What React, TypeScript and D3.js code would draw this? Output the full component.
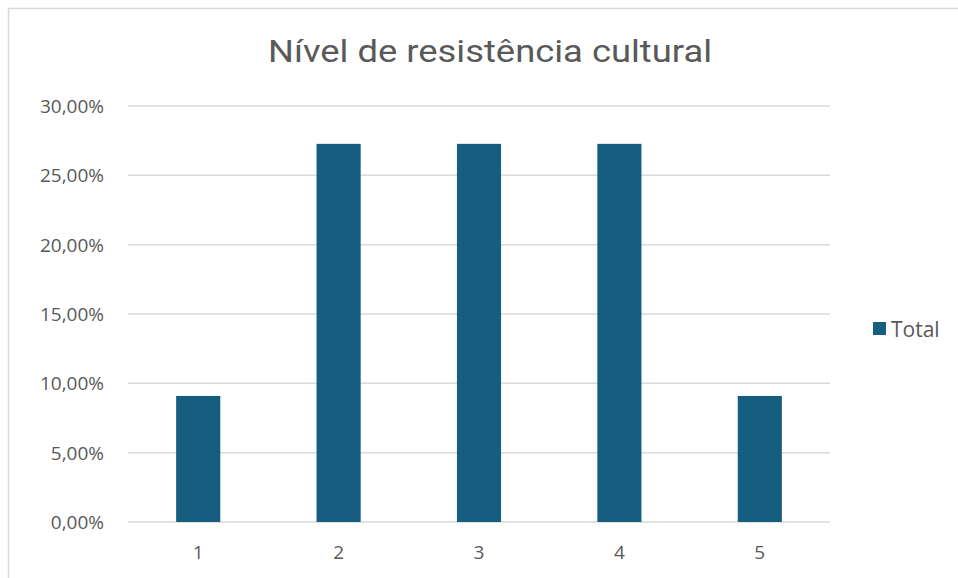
import React from "react";
import * as d3 from "d3";

const categories = ["1", "2", "3", "4", "5"];
const values = [0.0909, 0.2727, 0.2727, 0.2727, 0.0909];
const yTicks = [0, 0.05, 0.1, 0.15, 0.2, 0.25, 0.3];
const seriesName = "Total";
const title = "Nível de resistência cultural";

export default function App() {
  const W = 958, H = 578;
  const x0 = 128, x1 = 830, yTop = 106, yBot = 522;
  const x = d3.scaleBand<string>().domain(categories).range([x0, x1]).paddingInner(0.6857).paddingOuter(0.3429);
  const y = d3.scaleLinear().domain([0, 0.3]).range([yBot, yTop]);
  const fmt = (v: number) => (v * 100).toFixed(2).replace(".", ",") + "%";
  const font = "Roboto, 'Open Sans', sans-serif";
  const font2 = "'Open Sans', Roboto, sans-serif";
  return (
    <svg width={W} height={H} style={{ position: "absolute", left: 0, top: 0 }}>
      <rect x={0} y={0} width={W} height={H} fill="#fff" />
      <rect x={8.5} y={8.5} width={W + 10} height={H + 10} fill="#fff" stroke="#d9d9d9" strokeWidth={1.5} />
      <text x={490} y={62} textAnchor="middle" fontFamily={font} fontSize={32} fill="#595959" textLength={444} lengthAdjust="spacingAndGlyphs">{title}</text>
      {yTicks.map((t) => (
        <g key={t}>
          <line x1={x0} x2={x1} y1={y(t)} y2={y(t)} stroke="#d9d9d9" strokeWidth={1.5} />
          <text x={104} y={y(t) + 7} textAnchor="end" fontFamily={font2} fontSize={19} fill="#595959">{fmt(t)}</text>
        </g>
      ))}
      {categories.map((c, i) => (
        <rect key={c} x={x(c)} y={y(values[i])} width={x.bandwidth()} height={yBot - y(values[i])} fill="#165e80" />
      ))}
      {categories.map((c) => (
        <text key={c} x={(x(c) as number) + x.bandwidth() / 2} y={559} textAnchor="middle" fontFamily={font2} fontSize={19} fill="#595959">{c}</text>
      ))}
      <rect x={873} y={322} width={13} height={13} fill="#165e80" />
      <text x={891} y={337} fontFamily={font2} fontSize={21} fill="#595959">{seriesName}</text>
    </svg>
  );
}
